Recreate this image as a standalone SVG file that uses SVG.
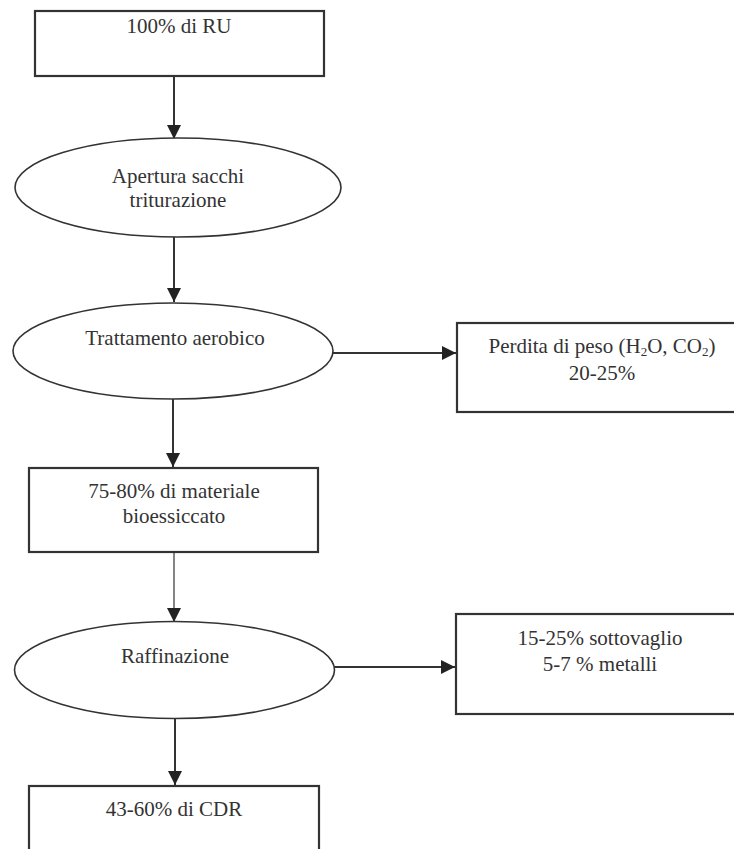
<svg xmlns="http://www.w3.org/2000/svg" width="734" height="849" viewBox="0 0 734 849">
<defs>
<style>
.box{fill:#fff;stroke:#333;stroke-width:2.2}
.ell{fill:#fff;stroke:#333;stroke-width:1.6}
.t{font-size:21px;fill:#333;text-anchor:middle}
.sub{font-size:13px}
.c{stroke:#333;stroke-width:2;fill:none}
.thin{stroke:#333;stroke-width:1.2;fill:none}
</style>
<marker id="ah" viewBox="0 0 10 10" refX="10" refY="5" markerWidth="14" markerHeight="14" markerUnits="userSpaceOnUse" orient="auto">
<path d="M0,0 L10,5 L0,10 z" fill="#222"/>
</marker>
</defs>
<rect width="734" height="849" fill="#fff"/>
<g id="connectors">
<line class="c" x1="174" y1="77" x2="174" y2="139" marker-end="url(#ah)"/>
<line class="c" x1="174" y1="237" x2="174" y2="302" marker-end="url(#ah)"/>
<line class="c" x1="333" y1="353" x2="456" y2="353" marker-end="url(#ah)"/>
<line class="c" x1="173" y1="399" x2="173" y2="467" marker-end="url(#ah)"/>
<line class="thin" x1="174" y1="553" x2="174" y2="622" marker-end="url(#ah)"/>
<line class="c" x1="334" y1="667" x2="455" y2="667" marker-end="url(#ah)"/>
<line class="c" x1="175" y1="719" x2="175" y2="785" marker-end="url(#ah)"/>
</g>
<g font-family="'Liberation Serif', 'Times New Roman', Times, serif">
<g id="n1">
<rect class="box" x="35" y="11" width="289" height="65"/>
<text class="t" x="179" y="33">100% di RU</text>
</g>
<g id="n2">
<ellipse class="ell" cx="178" cy="187.5" rx="163" ry="49.5"/>
<text class="t" x="178" y="183">Apertura sacchi</text>
<text class="t" x="178" y="207">triturazione</text>
</g>
<g id="n3">
<ellipse class="ell" cx="173" cy="351" rx="160" ry="48"/>
<text class="t" x="175" y="345">Trattamento aerobico</text>
</g>
<g id="n4">
<rect class="box" x="457" y="323" width="290" height="89"/>
<text class="t" x="602" y="353">Perdita di peso (H<tspan class="sub" dy="3">2</tspan><tspan dy="-3">O, CO</tspan><tspan class="sub" dy="3">2</tspan><tspan dy="-3">)</tspan></text>
<text class="t" x="602" y="380">20-25%</text>
</g>
<g id="n5">
<rect class="box" x="29" y="468" width="289" height="84"/>
<text class="t" x="174" y="498">75-80% di materiale</text>
<text class="t" x="174" y="523">bioessiccato</text>
</g>
<g id="n6">
<ellipse class="ell" cx="174.5" cy="670" rx="160" ry="48.5"/>
<text class="t" x="175" y="663">Raffinazione</text>
</g>
<g id="n7">
<rect class="box" x="456" y="614" width="290" height="100"/>
<text class="t" x="600" y="645">15-25% sottovaglio</text>
<text class="t" x="600" y="671">5-7 % metalli</text>
</g>
<g id="n8">
<rect class="box" x="29" y="786" width="290" height="80"/>
<text class="t" x="174" y="816">43-60% di CDR</text>
</g>
</g>
</svg>
